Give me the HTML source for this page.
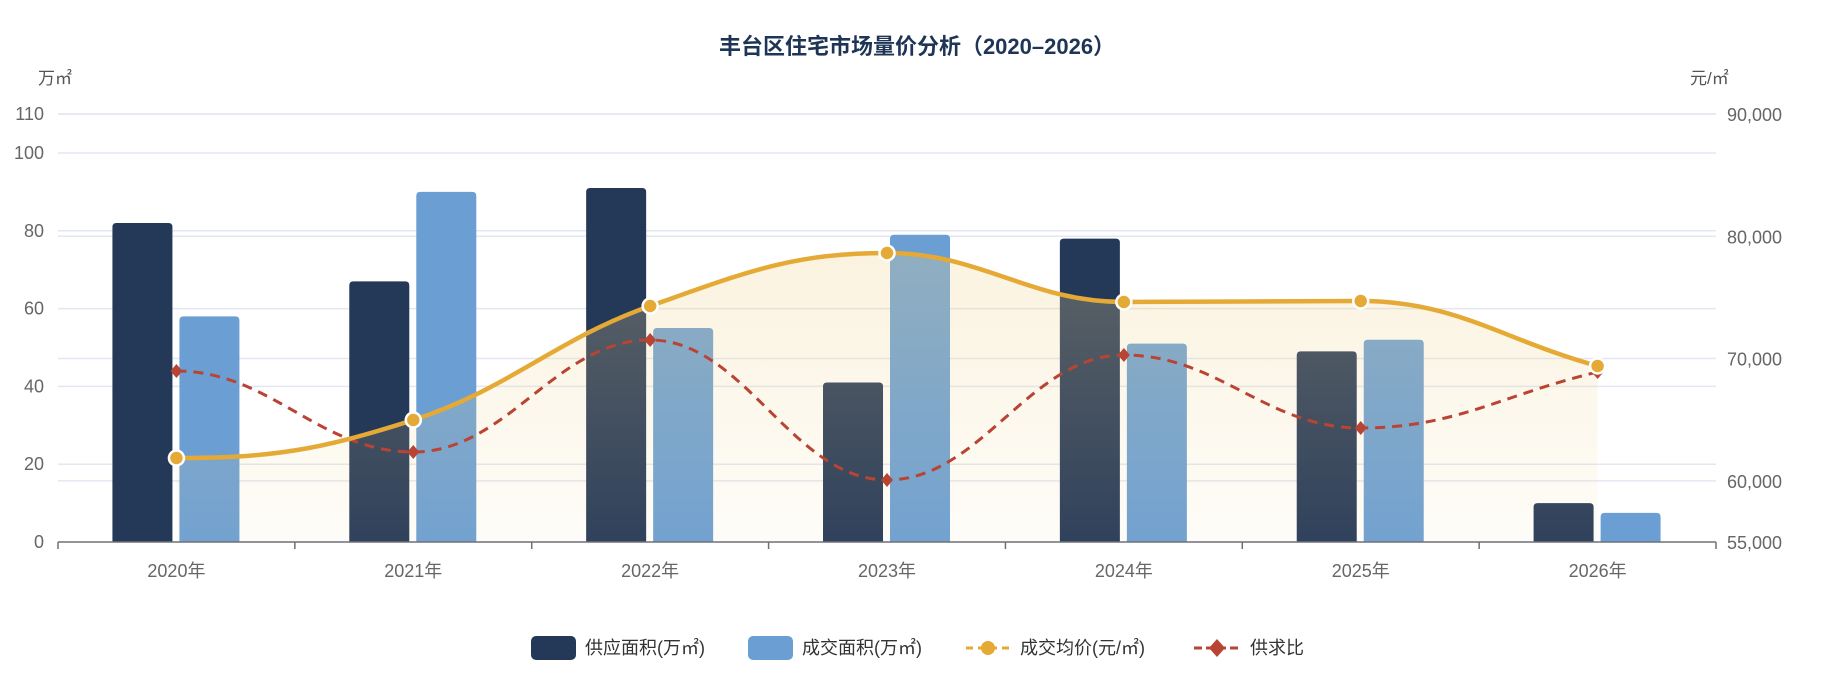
<!DOCTYPE html>
<html><head><meta charset="utf-8"><style>
html,body{margin:0;padding:0;background:#fff;}
svg{display:block;font-family:"Liberation Sans","Noto Sans CJK SC",sans-serif;}
</style></head><body>
<svg id="s" width="1834" height="682" viewBox="0 0 1834 682" xmlns="http://www.w3.org/2000/svg">
<defs>
<linearGradient id="ag" x1="0" y1="0" x2="0" y2="1">
<stop offset="0" stop-color="#f0d48e" stop-opacity="0.28"/>
<stop offset="1" stop-color="#f0d48e" stop-opacity="0.06"/>
</linearGradient>
</defs>
<text x="917" y="54" text-anchor="middle" font-size="22" font-weight="bold" fill="#1f3556">丰台区住宅市场量价分析（2020–2026）</text>
<text x="38" y="84" font-size="17" fill="#555">万㎡</text>
<text x="1690" y="84" font-size="17" fill="#555">元/㎡</text>
<g id="grid" stroke="#e3e7f2" stroke-width="1.5"></g>
<g id="lab" font-size="18" fill="#666"></g>
<g id="bars"></g>
<path id="area" fill="url(#ag)"/>
<line x1="58" y1="542" x2="1716" y2="542" stroke="#6e7079" stroke-width="1.5"/>
<g id="ticks" stroke="#6e7079" stroke-width="1.5"></g>
<path id="ratio" fill="none" stroke="#b94433" stroke-width="3" stroke-dasharray="10,7"/>
<g id="rm"></g>
<path id="price" fill="none" stroke="#e5a936" stroke-width="4.5"/>
<g id="pm"></g>
<g font-size="18" fill="#333">
<rect x="531" y="636" width="45" height="24" rx="5" fill="#243858"/>
<text x="585" y="654">供应面积(万㎡)</text>
<rect x="748" y="636" width="45" height="24" rx="5" fill="#6b9fd4"/>
<text x="802" y="654">成交面积(万㎡)</text>
<line x1="966" y1="648" x2="1010" y2="648" stroke="#e5a936" stroke-width="3" stroke-dasharray="7,5"/>
<circle cx="988" cy="648" r="7" fill="#e5a936"/>
<text x="1020" y="654">成交均价(元/㎡)</text>
<line x1="1194" y1="648" x2="1240" y2="648" stroke="#b94433" stroke-width="3" stroke-dasharray="8,4"/>
<path d="M1217 639 L1225 648 L1217 657 L1209 648Z" fill="#b94433"/>
<text x="1250" y="654">供求比</text>
</g>
</svg>
<script>
var NS="http://www.w3.org/2000/svg";
function el(p,t,a,txt){var e=document.createElementNS(NS,t);for(var k in a)e.setAttribute(k,a[k]);if(txt)e.textContent=txt;document.getElementById(p).appendChild(e);return e;}
var y0=542,k=3.89;
[20,40,60,80,100,110].forEach(function(v){var y=y0-v*k;el('grid','line',{x1:58,x2:1716,y1:y,y2:y});});
[0,20,40,60,80,100,110].forEach(function(v){var y=y0-v*k;el('lab','text',{x:44,y:y+6,'text-anchor':'end'},String(v));});
var kr=0.01223;
[60000,70000,80000,90000].forEach(function(v){var y=y0-(v-55000)*kr;el('grid','line',{x1:58,x2:1716,y1:y,y2:y});});
[55000,60000,70000,80000,90000].forEach(function(v){var y=y0-(v-55000)*kr;el('lab','text',{x:1727,y:y+7},v.toLocaleString('en-US'));});
var bw=236.86,cs=[];for(var i=0;i<7;i++)cs.push(58+bw*(i+0.5));
for(var i=0;i<=7;i++){var x=58+bw*i;el('ticks','line',{x1:x,x2:x,y1:542,y2:549});}
cs.forEach(function(c,i){el('lab','text',{x:c,y:577,'text-anchor':'middle'},(2020+i)+'年');});
var d=[82,67,91,41,78,49,10],l=[58,90,55,79,51,52,7.5];
function rb(x,top,w,col){var r=4;el('bars','path',{d:'M'+x+' 542V'+(top+r)+'Q'+x+' '+top+' '+(x+r)+' '+top+'H'+(x+w-r)+'Q'+(x+w)+' '+top+' '+(x+w)+' '+(top+r)+'V542Z',fill:col});}
cs.forEach(function(c,i){rb(c-64,y0-d[i]*k,60,'#243858');rb(c+3,y0-l[i]*k,60,'#6b9fd4');});
var py=[458,420,306,253,302,301,366],ry=[371,452,340,480,355,428,372];
function spline(ys,t){var p=cs.map(function(x,i){return [x,ys[i]];});var s='M'+p[0][0]+' '+p[0][1];
for(var i=0;i<p.length-1;i++){var p0=p[i-1]||p[i],p1=p[i],p2=p[i+1],p3=p[i+2]||p[i+1];
var dx=(p2[0]-p1[0])*t;
var s1=(p2[1]-p0[1])/(p2[0]-p0[0]||1),s2=(p3[1]-p1[1])/(p3[0]-p1[0]||1);
if((p1[1]-p0[1])*(p2[1]-p1[1])<=0&&i>0)s1=0;
if((p2[1]-p1[1])*(p3[1]-p2[1])<=0&&i<p.length-2)s2=0;
if(i==0)s1=0;if(i==p.length-2)s2=(p2[1]-p1[1])/(p2[0]-p1[0]);
var c1=[p1[0]+dx,p1[1]+s1*dx],c2=[p2[0]-dx,p2[1]-s2*dx];
s+='C'+c1.join(' ')+' '+c2.join(' ')+' '+p2.join(' ');}return s;}
var ps=spline(py,0.4);
document.getElementById('price').setAttribute('d',ps);
document.getElementById('area').setAttribute('d',ps+'L'+cs[6]+' 542L'+cs[0]+' 542Z');
document.getElementById('ratio').setAttribute('d',spline(ry,0.4));
cs.forEach(function(c,i){var y=ry[i];el('rm','path',{d:'M'+c+' '+(y-7)+'L'+(c+6)+' '+y+'L'+c+' '+(y+7)+'L'+(c-6)+' '+y+'Z',fill:'#b94433'});
el('pm','circle',{cx:c,cy:py[i],r:7.5,fill:'#e5a936',stroke:'#fff','stroke-width':2.5});});
</script>
</body></html>
